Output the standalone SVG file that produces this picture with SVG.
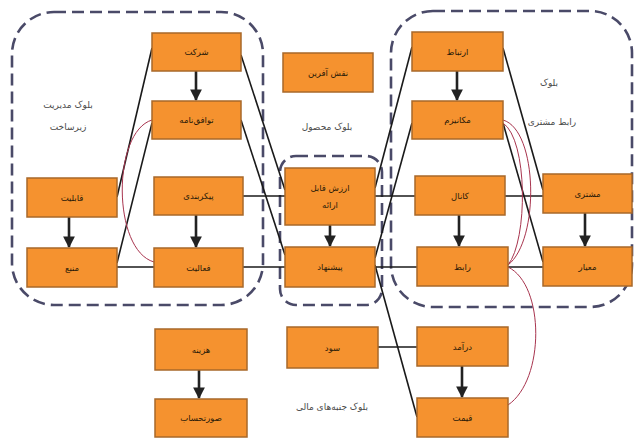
<svg xmlns="http://www.w3.org/2000/svg" width="637" height="438" viewBox="0 0 637 438">
<defs>
<marker id="ah" viewBox="0 0 10 10" refX="9" refY="5" markerWidth="4.5" markerHeight="4.5" orient="auto" markerUnits="strokeWidth">
<path d="M0,0 L10,5 L0,10 z" fill="#222"/>
</marker>
<style>
.box{fill:#F5922F;stroke:#A8682A;stroke-width:1.5}
.bt{font-family:"DejaVu Sans",sans-serif;font-size:8.5px;fill:#2a1a08;text-anchor:middle;dominant-baseline:central}
.lbl{font-family:"DejaVu Sans",sans-serif;font-size:9px;fill:#4a4a4a;text-anchor:middle;dominant-baseline:central}
.blk{fill:none;stroke:#4a4a68;stroke-width:2.6;stroke-dasharray:12 6}
.ln{fill:none;stroke:#1a1a1a;stroke-width:1.6}
.arr{fill:none;stroke:#222;stroke-width:2.6;marker-end:url(#ah)}
.cv{fill:none;stroke:#a8344e;stroke-width:1}
</style>
</defs>
<rect width="637" height="438" fill="#fff"/>

<g id="blocks">
<rect class="blk" x="12" y="12" width="251" height="293" rx="42"/>
<rect class="blk" x="280" y="156" width="102" height="149" rx="16"/>
<rect class="blk" x="391" y="11" width="241" height="296" rx="42"/>
</g>

<g id="labels">
<text class="lbl" x="68" y="105">بلوک مدیریت</text>
<text class="lbl" x="68" y="127">زیرساخت</text>
<text class="lbl" x="327" y="127">بلوک محصول</text>
<text class="lbl" x="549" y="83">بلوک</text>
<text class="lbl" x="552" y="122">رابط مشتری</text>
<text class="lbl" x="332" y="407">بلوک جنبه‌های مالی</text>
</g>

<g id="connectors">
<line class="ln" x1="152" y1="48" x2="117" y2="197"/>
<line class="ln" x1="152" y1="123" x2="117" y2="263"/>
<line class="ln" x1="117" y1="267" x2="154" y2="267"/>
<line class="ln" x1="241" y1="55" x2="285" y2="190"/>
<line class="ln" x1="241" y1="120" x2="285" y2="255"/>
<line class="ln" x1="243" y1="196" x2="285" y2="196"/>
<line class="ln" x1="243" y1="267" x2="285" y2="267"/>
<line class="ln" x1="375" y1="196" x2="415" y2="196"/>
<line class="ln" x1="375" y1="267" x2="417" y2="267"/>
<line class="ln" x1="412" y1="47" x2="375" y2="188"/>
<line class="ln" x1="412" y1="123" x2="375" y2="258"/>
<line class="ln" x1="503" y1="48" x2="543" y2="190"/>
<line class="ln" x1="503" y1="123" x2="543" y2="262"/>
<line class="ln" x1="505" y1="196" x2="543" y2="196"/>
<line class="ln" x1="508" y1="267" x2="543" y2="267"/>
<line class="ln" x1="378" y1="347" x2="417" y2="347"/>
<line class="ln" x1="375" y1="265" x2="417" y2="417"/>
<path class="cv" d="M152,120 C112,132 112,250 154,262"/>
<path class="cv" d="M503,120 C538,130 540,240 508,265"/>
<path class="cv" d="M503,123 C528,140 528,240 508,265"/>
<path class="cv" d="M508,267 C545,285 545,380 508,405"/>
<line class="arr" x1="196" y1="71" x2="196" y2="100"/>
<line class="arr" x1="69" y1="217" x2="69" y2="247"/>
<line class="arr" x1="196" y1="215" x2="196" y2="247"/>
<line class="arr" x1="330" y1="225" x2="330" y2="246"/>
<line class="arr" x1="457" y1="71" x2="457" y2="100"/>
<line class="arr" x1="459" y1="215" x2="459" y2="246"/>
<line class="arr" x1="585" y1="213" x2="585" y2="246"/>
<line class="arr" x1="199" y1="370" x2="199" y2="398"/>
<line class="arr" x1="462" y1="366" x2="462" y2="397"/>
</g>

<g id="n-sherkat"><rect class="box" x="152" y="33" width="89" height="38"/><text class="bt" x="196.5" y="52">شرکت</text></g>
<g id="n-tavafoq"><rect class="box" x="152" y="101" width="89" height="38"/><text class="bt" x="196.5" y="120">توافق‌نامه</text></g>
<g id="n-qabeliat"><rect class="box" x="27" y="178" width="90" height="39"/><text class="bt" x="72" y="197.5">قابلیت</text></g>
<g id="n-manba"><rect class="box" x="27" y="248" width="90" height="39"/><text class="bt" x="72" y="267.5">منبع</text></g>
<g id="n-peykarbandi"><rect class="box" x="154" y="177" width="89" height="38"/><text class="bt" x="198.5" y="196">پیکربندی</text></g>
<g id="n-faaliat"><rect class="box" x="154" y="248" width="89" height="39"/><text class="bt" x="198.5" y="267.5">فعالیت</text></g>
<g id="n-naqsh"><rect class="box" x="283" y="53" width="90" height="39"/><text class="bt" x="328" y="72.5">نقش آفرین</text></g>
<g id="n-arzesh"><rect class="box" x="285" y="168" width="90" height="57"/><text class="bt" x="330" y="188">ارزش قابل</text><text class="bt" x="330" y="205">ارائه</text></g>
<g id="n-pishnahad"><rect class="box" x="285" y="247" width="90" height="40"/><text class="bt" x="330" y="267">پیشنهاد</text></g>
<g id="n-ertebat"><rect class="box" x="412" y="32" width="91" height="39"/><text class="bt" x="457.5" y="51.5">ارتباط</text></g>
<g id="n-mekanizm"><rect class="box" x="412" y="101" width="91" height="38"/><text class="bt" x="457.5" y="120">مکانیزم</text></g>
<g id="n-kanal"><rect class="box" x="415" y="176" width="90" height="39"/><text class="bt" x="460" y="195.5">کانال</text></g>
<g id="n-rabet"><rect class="box" x="417" y="247" width="91" height="39"/><text class="bt" x="462.5" y="266.5">رابط</text></g>
<g id="n-moshtari"><rect class="box" x="543" y="174" width="89" height="39"/><text class="bt" x="587.5" y="193.5">مشتری</text></g>
<g id="n-meyar"><rect class="box" x="543" y="247" width="89" height="39"/><text class="bt" x="587.5" y="266.5">معیار</text></g>
<g id="n-hazine"><rect class="box" x="155" y="329" width="92" height="41"/><text class="bt" x="201" y="349.5">هزینه</text></g>
<g id="n-soorathesab"><rect class="box" x="155" y="399" width="92" height="38"/><text class="bt" x="201" y="418">صورتحساب</text></g>
<g id="n-sood"><rect class="box" x="287" y="327" width="91" height="41"/><text class="bt" x="332.5" y="347.5">سود</text></g>
<g id="n-daramad"><rect class="box" x="417" y="327" width="91" height="39"/><text class="bt" x="462.5" y="346.5">درآمد</text></g>
<g id="n-qeymat"><rect class="box" x="417" y="398" width="91" height="39"/><text class="bt" x="462.5" y="417.5">قیمت</text></g>
</svg>
